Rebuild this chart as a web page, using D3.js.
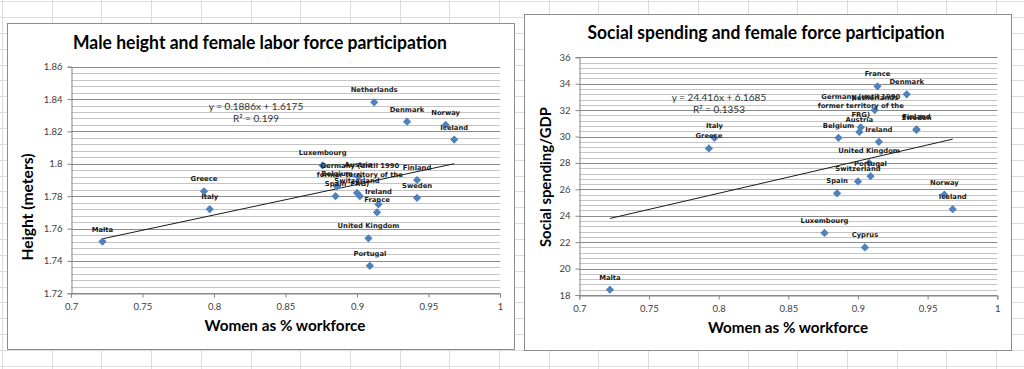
<!DOCTYPE html>
<html>
<head>
<meta charset="utf-8">
<script src="https://cdn.jsdelivr.net/npm/d3@7"></script>
<style>
  body { margin: 0; background: #fff; }
  svg { display: block; }
</style>
</head>
<body>
<svg id="sheet" width="1024" height="369"></svg>
<script>
// data
var countries = ["Malta", "Greece", "Italy", "Luxembourg", "Spain", "Belgium", "Switzerland",
  "Germany (until 1990\nformer territory of the\nFRG)", "Austria", "Cyprus", "United  Kingdom",
  "Portugal", "Netherlands", "France", "Ireland", "Denmark", "Finland", "Sweden", "Norway", "Iceland"];
var womenShare = [0.722, 0.793, 0.797, 0.876, 0.885, 0.886, 0.900,
  0.902, 0.901, 0.905, 0.908, 0.909, 0.912, 0.914, 0.915, 0.935, 0.942, 0.942, 0.962, 0.968];
var maleHeight = [1.752, 1.783, 1.772, 1.799, 1.780, 1.786, 1.782,
  1.780, 1.792, null, 1.754, 1.737, 1.838, 1.770, 1.775, 1.826, 1.790, 1.779, 1.824, 1.815];
var socialSpending = [18.4, 29.1, 29.9, 22.7, 25.7, 29.9, 26.6,
  30.7, 30.35, 21.6, 28.0, 27.0, 32.0, 33.8, 29.6, 33.2, 30.55, 30.5, 25.6, 24.5];

var shareTicks = [0.7, 0.75, 0.8, 0.85, 0.9, 0.95, 1];
var shareTickLabels = ["0.7", "0.75", "0.8", "0.85", "0.9", "0.95", "1"];
var heightTicks = [1.72, 1.74, 1.76, 1.78, 1.8, 1.82, 1.84, 1.86];
var heightTickLabels = ["1.72", "1.74", "1.76", "1.78", "1.8", "1.82", "1.84", "1.86"];
var spendTicks = [18, 20, 22, 24, 26, 28, 30, 32, 34, 36];
var spendTickLabels = ["18", "20", "22", "24", "26", "28", "30", "32", "34", "36"];

// trendline: slope, intercept, r squared
var heightTrend = [0.1886, 1.6175, 0.199];
var spendTrend = [24.416, 6.1685, 0.1353];

var svg = d3.select("#sheet");

// spreadsheet cells behind the charts
var cells = svg.append("g").attr("stroke", "#dadcdd").attr("stroke-width", 1);
cells.selectAll("line.c").data(d3.range(0, 21)).enter().append("line")
  .attr("x1", function (i) { return Math.round(2 + i * 49.7) + 0.5; })
  .attr("x2", function (i) { return Math.round(2 + i * 49.7) + 0.5; })
  .attr("y1", 0).attr("y2", 369);
cells.selectAll("line.r").data(d3.range(-1, 24)).enter().append("line")
  .attr("y1", function (i) { return Math.round(17 + i * 15.86) + 0.5; })
  .attr("y2", function (i) { return Math.round(17 + i * 15.86) + 0.5; })
  .attr("x1", 0).attr("x2", 1024);

function drawChart(cfg) {
  var g = svg.append("g");

  g.append("rect")
    .attr("x", cfg.box[0]).attr("y", cfg.box[1])
    .attr("width", cfg.box[2]).attr("height", cfg.box[3])
    .attr("fill", "#fff").attr("stroke", "#8c8c8c");

  var x = d3.scaleLinear().domain([0.7, 1]).range([cfg.plot.l, cfg.plot.r]);
  var y = d3.scaleLinear().domain([cfg.yTicks[0], cfg.yTicks[cfg.yTicks.length - 1]])
    .range([cfg.plot.b, cfg.plot.t]);

  // minor then major gridlines
  var lo = cfg.yTicks[0], hi = cfg.yTicks[cfg.yTicks.length - 1];
  var nMinor = Math.round((hi - lo) / cfg.minor);
  var minor = d3.range(0, nMinor + 1).map(function (i) { return lo + i * cfg.minor; });
  g.append("g").selectAll("line").data(minor).enter().append("line")
    .attr("x1", cfg.plot.l).attr("x2", cfg.plot.r)
    .attr("y1", function (d) { return Math.round(y(d)) + 0.5; })
    .attr("y2", function (d) { return Math.round(y(d)) + 0.5; })
    .attr("stroke", "#c4c4c4");
  g.append("g").selectAll("line").data(cfg.yTicks).enter().append("line")
    .attr("x1", cfg.plot.l).attr("x2", cfg.plot.r)
    .attr("y1", function (d) { return Math.round(y(d)) + 0.5; })
    .attr("y2", function (d) { return Math.round(y(d)) + 0.5; })
    .attr("stroke", "#8a8a8a");

  var yAxis = g.append("g")
    .attr("transform", "translate(" + (Math.round(cfg.plot.l) + 0.5) + ",0)")
    .call(d3.axisLeft(y).tickValues(cfg.yTicks).tickSize(4).tickPadding(5)
      .tickFormat(function (d, i) { return cfg.yLabels[i]; }));
  var xAxis = g.append("g")
    .attr("transform", "translate(0," + (Math.round(cfg.plot.b) + 0.5) + ")")
    .call(d3.axisBottom(x).tickValues(shareTicks).tickSize(4).tickPadding(6)
      .tickFormat(function (d, i) { return shareTickLabels[i]; }));
  [yAxis, xAxis].forEach(function (a) {
    a.select(".domain").attr("stroke", "#868686");
    a.selectAll(".tick line").attr("stroke", "#868686");
    a.selectAll("text").attr("font-family", "Lato").attr("font-size", 9.5).attr("fill", "#404040");
  });

  // trendline over the data range
  var xs = womenShare.filter(function (d, i) { return cfg.values[i] != null; });
  var x0 = d3.min(xs), x1 = d3.max(xs);
  g.append("line")
    .attr("x1", x(x0)).attr("y1", y(cfg.trend[0] * x0 + cfg.trend[1]))
    .attr("x2", x(x1)).attr("y2", y(cfg.trend[0] * x1 + cfg.trend[1]))
    .attr("stroke", "#1a1a1a").attr("stroke-width", 1);

  var eq = g.append("g").attr("font-family", "Lato").attr("font-size", 10)
    .attr("fill", "#333").attr("text-anchor", "middle");
  eq.append("text").attr("x", cfg.eq[0]).attr("y", cfg.eq[1])
    .text("y = " + cfg.trend[0] + "x + " + cfg.trend[1]);
  eq.append("text").attr("x", cfg.eq[0]).attr("y", cfg.eq[1] + 12)
    .text("R² = " + cfg.trend[2]);

  var pts = d3.range(countries.length).filter(function (i) { return cfg.values[i] != null; });

  g.append("g").selectAll("path").data(pts).enter().append("path")
    .attr("d", d3.symbol(d3.symbolSquare, 34))
    .attr("transform", function (i) {
      return "translate(" + x(womenShare[i]) + "," + y(cfg.values[i]) + ") rotate(45)";
    })
    .attr("fill", "#4f81bd");

  var labels = g.append("g").attr("font-family", "DejaVu Sans").attr("font-weight", "bold")
    .attr("font-size", 6.8).attr("fill", "#1a1a1a").attr("text-anchor", "middle");
  labels.selectAll("text").data(pts).enter().append("text")
    .each(function (i) {
      var lines = countries[i].split("\n");
      var t = d3.select(this);
      var px = x(womenShare[i]), py = y(cfg.values[i]);
      lines.forEach(function (s, k) {
        t.append("tspan").attr("x", px)
          .attr("y", py - 10 - (lines.length - 1 - k) * 9.3)
          .text(s);
      });
    });

  g.append("text").attr("x", cfg.title[0]).attr("y", cfg.title[1])
    .attr("text-anchor", "middle").attr("font-family", "Lato").attr("font-weight", "bold")
    .attr("font-size", cfg.title[3]).attr("fill", "#000")
    .attr("textLength", cfg.title[2]).attr("lengthAdjust", "spacingAndGlyphs")
    .text(cfg.titleText);

  g.append("text").attr("x", cfg.xTitle[0]).attr("y", cfg.xTitle[1])
    .attr("text-anchor", "middle").attr("font-family", "Lato").attr("font-weight", "bold")
    .attr("font-size", 15.5).attr("fill", "#000")
    .attr("textLength", cfg.xTitle[2]).attr("lengthAdjust", "spacingAndGlyphs")
    .text("Women as % workforce");

  g.append("text")
    .attr("transform", "translate(" + cfg.yTitle[0] + "," + cfg.yTitle[1] + ") rotate(-90)")
    .attr("text-anchor", "middle").attr("font-family", "Lato").attr("font-weight", "bold")
    .attr("font-size", 15.5).attr("fill", "#000")
    .attr("textLength", cfg.yTitle[2]).attr("lengthAdjust", "spacingAndGlyphs")
    .text(cfg.yTitleText);
}

drawChart({
  box: [7.5, 23.5, 507, 326],
  plot: { l: 71, r: 500, t: 66.7, b: 293.3 },
  values: maleHeight,
  yTicks: heightTicks,
  yLabels: heightTickLabels,
  minor: 0.004,
  trend: heightTrend,
  eq: [256, 109.5],
  title: [260, 49.3, 374, 19.5],
  titleText: "Male height and female labor force participation",
  xTitle: [285, 330.7, 161],
  yTitle: [33, 207, 107],
  yTitleText: "Height (meters)"
});

drawChart({
  box: [524.5, 14.5, 487, 336],
  plot: { l: 579.3, r: 997.3, t: 57.3, b: 295 },
  values: socialSpending,
  yTicks: spendTicks,
  yLabels: spendTickLabels,
  minor: 0.4,
  trend: spendTrend,
  eq: [719, 100.5],
  title: [766, 39.3, 357, 18.5],
  titleText: "Social spending and female force participation",
  xTitle: [788, 332.7, 160],
  yTitle: [551, 177, 140],
  yTitleText: "Social spending/GDP"
});
</script>
</body>
</html>
